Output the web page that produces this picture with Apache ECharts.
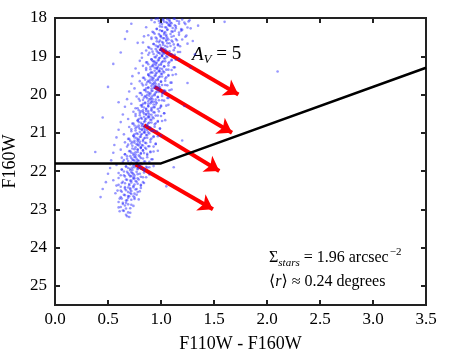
<!DOCTYPE html>
<html>
<head>
<meta charset="utf-8">
<script src="https://cdn.jsdelivr.net/npm/echarts@6/dist/echarts.min.js"></script>
<style>
html,body{margin:0;padding:0;background:#fff}
#main{width:450px;height:354px}
</style>
</head>
<body>
<div id="main"></div>
<script>
// tick labels
var xTicks = [0.0, 0.5, 1.0, 1.5, 2.0, 2.5, 3.0, 3.5];
var yTicks = [18, 19, 20, 21, 22, 23, 24, 25];

// completeness cut (colour, magnitude)
var cutLine = [[0.0, 21.8], [1.0, 21.8], [3.5, 19.3]];

// reddening vectors, A_V = 5
var arrows = [
  [[0.99, 18.80], [1.73, 20.00]],
  [[0.94, 19.80], [1.67, 21.00]],
  [[0.84, 20.80], [1.55, 22.00]],
  [[0.76, 21.83], [1.49, 23.00]]
];

// stars (F110W-F160W, F160W)
var stars = [
  [1.02,18.03],[1.08,18.05],[1.13,18.02],[0.98,18.08],[1.05,18.11],[1.17,18.09],[1.10,18.14],[1.01,18.16],[1.22,18.12],[1.07,18.18],[1.27,18.06],[0.95,18.02],
  [0.99,18.22],[1.04,18.24],[1.09,18.21],[1.14,18.27],[0.96,18.29],[1.06,18.31],[1.01,18.34],[1.11,18.36],[1.19,18.33],[0.93,18.38],[1.03,18.39],[1.25,18.25],
  [0.98,18.42],[1.05,18.44],[1.00,18.47],[1.10,18.49],[0.95,18.51],[1.02,18.53],[1.07,18.56],[0.91,18.55],[1.15,18.58],[0.99,18.59],[1.24,18.46],[0.84,18.48],
  [0.96,18.61],[1.01,18.63],[1.06,18.66],[0.93,18.68],[0.99,18.71],[1.04,18.73],[1.12,18.69],[0.97,18.76],[0.89,18.78],[1.02,18.79],[1.18,18.74],[0.78,18.65],
  [0.95,18.81],[1.00,18.83],[1.05,18.86],[0.92,18.88],[0.98,18.91],[1.03,18.93],[1.10,18.95],[0.88,18.96],[0.96,18.98],[1.01,18.99],[1.16,18.89],[0.82,18.92],
  [0.94,19.02],[0.99,19.04],[1.04,19.06],[0.91,19.08],[0.97,19.11],[1.02,19.13],[1.08,19.15],[0.87,19.16],[0.95,19.18],[1.00,19.19],[1.14,19.09],[0.80,19.12],[0.93,19.14],
  [0.93,19.21],[0.98,19.23],[1.03,19.26],[0.90,19.28],[0.96,19.31],[1.01,19.33],[1.07,19.35],[0.86,19.36],[0.94,19.38],[0.99,19.39],[1.13,19.29],[0.76,19.32],[0.92,19.24],
  [0.91,19.41],[0.96,19.43],[1.01,19.46],[0.88,19.48],[0.94,19.51],[0.99,19.53],[1.05,19.55],[0.84,19.56],[0.92,19.58],[0.97,19.59],[1.11,19.49],[0.73,19.52],[0.90,19.44],
  [0.90,19.61],[0.95,19.63],[1.00,19.66],[0.87,19.68],[0.93,19.71],[0.98,19.73],[1.04,19.75],[0.83,19.76],[0.91,19.78],[0.96,19.79],[1.10,19.69],[0.72,19.72],[0.88,19.64],
  [0.88,19.81],[0.93,19.83],[0.98,19.86],[0.85,19.88],[0.91,19.91],[0.96,19.93],[1.02,19.95],[0.81,19.96],[0.89,19.98],[0.94,19.99],[1.08,19.89],[0.70,19.92],[0.86,19.84],
  [0.87,20.01],[0.92,20.03],[0.97,20.06],[0.84,20.08],[0.90,20.11],[0.95,20.13],[1.01,20.15],[0.80,20.16],[0.88,20.18],[0.93,20.19],[1.07,20.09],[0.68,20.12],[0.85,20.04],
  [0.85,20.21],[0.90,20.23],[0.95,20.26],[0.82,20.28],[0.88,20.31],[0.93,20.33],[0.99,20.35],[0.78,20.36],[0.86,20.38],[0.91,20.39],[1.05,20.29],[0.66,20.32],[0.83,20.24],
  [0.83,20.41],[0.88,20.43],[0.93,20.46],[0.80,20.48],[0.86,20.51],[0.91,20.53],[0.97,20.55],[0.76,20.56],[0.84,20.58],[0.89,20.59],[1.03,20.49],[0.64,20.52],[0.81,20.44],
  [0.81,20.61],[0.86,20.63],[0.91,20.66],[0.78,20.68],[0.84,20.71],[0.89,20.73],[0.95,20.75],[0.74,20.76],[0.82,20.78],[0.87,20.79],[1.01,20.69],[0.62,20.72],[0.79,20.64],
  [0.79,20.81],[0.84,20.83],[0.89,20.86],[0.76,20.88],[0.82,20.91],[0.87,20.93],[0.93,20.95],[0.72,20.96],[0.80,20.98],[0.85,20.99],[0.99,20.89],[0.60,20.92],[0.77,20.84],
  [0.77,21.01],[0.82,21.03],[0.87,21.06],[0.74,21.08],[0.80,21.11],[0.85,21.13],[0.91,21.15],[0.70,21.16],[0.78,21.18],[0.83,21.19],[0.97,21.09],[0.58,21.12],[0.75,21.04],
  [0.75,21.21],[0.80,21.23],[0.85,21.26],[0.72,21.28],[0.78,21.31],[0.83,21.33],[0.89,21.35],[0.68,21.36],[0.76,21.38],[0.81,21.39],[0.95,21.29],[0.56,21.32],[0.73,21.24],
  [0.73,21.41],[0.78,21.43],[0.83,21.46],[0.70,21.48],[0.76,21.51],[0.81,21.53],[0.87,21.55],[0.66,21.56],[0.74,21.58],[0.79,21.59],[0.93,21.49],[0.55,21.52],
  [0.71,21.61],[0.76,21.63],[0.81,21.66],[0.68,21.68],[0.74,21.71],[0.79,21.73],[0.85,21.75],[0.64,21.76],[0.72,21.78],[0.77,21.79],[0.91,21.69],[0.53,21.72],
  [0.70,21.81],[0.75,21.83],[0.80,21.86],[0.67,21.88],[0.73,21.91],[0.78,21.93],[0.84,21.95],[0.63,21.96],[0.71,21.98],[0.89,21.90],[0.52,21.92],
  [0.68,22.02],[0.73,22.05],[0.78,22.08],[0.65,22.11],[0.71,22.14],[0.83,22.16],[0.60,22.18],[0.75,22.19],[0.50,22.07],
  [0.67,22.22],[0.72,22.25],[0.77,22.28],[0.63,22.31],[0.70,22.34],[0.81,22.36],[0.58,22.38],[0.74,22.39],[0.48,22.29],
  [0.66,22.42],[0.71,22.45],[0.76,22.48],[0.62,22.51],[0.69,22.55],[0.80,22.53],[0.57,22.58],[0.45,22.47],
  [0.65,22.62],[0.70,22.66],[0.75,22.69],[0.61,22.72],[0.68,22.76],[0.79,22.74],[0.43,22.68],
  [0.64,22.83],[0.69,22.87],[0.74,22.91],[0.60,22.95],[0.67,22.98],
  [0.65,23.04],[0.71,23.09],[0.68,23.18],
  [0.97,18.01],[1.02,18.06],[1.06,18.03],[1.08,18.08],[1.12,18.02],[1.15,18.07],[1.20,18.04],[0.91,18.05],[1.26,18.09],
  [0.99,18.14],[1.03,18.10],[1.08,18.17],[1.09,18.12],[1.13,18.19],[1.17,18.15],[0.94,18.11],[1.23,18.16],[1.06,18.13],
  [0.96,18.28],[1.01,18.23],[1.05,18.25],[1.08,18.20],[1.11,18.26],[1.14,18.22],[1.19,18.29],[0.86,18.24],[1.28,18.27],
  [0.99,18.32],[1.04,18.37],[1.06,18.30],[1.10,18.35],[1.13,18.33],[1.17,18.38],[0.92,18.36],[1.20,18.31],[1.01,18.34],
  [0.94,18.41],[0.99,18.46],[1.03,18.43],[1.05,18.48],[1.09,18.42],[1.12,18.47],[1.17,18.44],[0.88,18.45],[1.23,18.49],
  [0.96,18.54],[1.00,18.50],[1.05,18.57],[1.06,18.52],[1.10,18.59],[1.14,18.55],[0.91,18.51],[1.20,18.56],[1.03,18.53],
  [0.93,18.68],[0.98,18.63],[1.02,18.65],[1.05,18.60],[1.08,18.66],[1.11,18.62],[1.16,18.69],[0.83,18.64],[1.25,18.67],
  [0.95,18.72],[1.00,18.77],[1.02,18.70],[1.06,18.75],[1.09,18.73],[1.13,18.78],[0.88,18.76],[1.16,18.71],[0.97,18.74],
  [0.91,18.81],[0.96,18.86],[0.99,18.83],[1.01,18.88],[1.04,18.82],[1.08,18.87],[1.12,18.84],[0.86,18.85],[1.18,18.89],
  [0.93,18.94],[0.97,18.90],[1.01,18.97],[1.02,18.92],[1.05,18.99],[1.08,18.95],[0.89,18.91],[1.13,18.96],[0.99,18.93],
  [0.91,19.08],[0.95,19.03],[0.98,19.05],[1.01,19.00],[1.03,19.06],[1.06,19.02],[1.10,19.09],[0.82,19.04],[1.17,19.07],
  [0.92,19.12],[0.96,19.17],[0.98,19.10],[1.01,19.15],[1.04,19.13],[1.07,19.18],[0.86,19.16],[1.10,19.11],[0.94,19.14],
  [0.88,19.21],[0.92,19.26],[0.95,19.23],[0.97,19.28],[1.00,19.22],[1.03,19.27],[1.07,19.24],[0.83,19.25],[1.12,19.29],
  [0.90,19.34],[0.94,19.30],[0.98,19.37],[0.99,19.32],[1.02,19.39],[1.05,19.35],[0.86,19.31],[1.10,19.36],[0.96,19.33],
  [0.88,19.48],[0.92,19.43],[0.95,19.45],[0.98,19.40],[1.00,19.46],[1.03,19.42],[1.07,19.49],[0.79,19.44],[1.14,19.47],
  [0.89,19.52],[0.93,19.57],[0.95,19.50],[0.98,19.55],[1.01,19.53],[1.04,19.58],[0.83,19.56],[1.07,19.51],[0.91,19.54],
  [0.85,19.61],[0.89,19.66],[0.92,19.63],[0.94,19.68],[0.97,19.62],[1.00,19.67],[1.04,19.64],[0.80,19.65],[1.09,19.69],
  [0.86,19.74],[0.90,19.70],[0.94,19.77],[0.95,19.72],[0.98,19.79],[1.01,19.75],[0.82,19.71],[1.06,19.76],[0.92,19.73],
  [0.84,19.88],[0.88,19.83],[0.91,19.85],[0.94,19.80],[0.96,19.86],[0.99,19.82],[1.03,19.89],[0.75,19.84],[1.10,19.87],
  [0.86,19.92],[0.90,19.97],[0.92,19.90],[0.95,19.95],[0.98,19.93],[1.01,19.98],[0.80,19.96],[1.04,19.91],[0.88,19.94],
  [0.82,20.01],[0.86,20.06],[0.89,20.03],[0.91,20.08],[0.94,20.02],[0.97,20.07],[1.01,20.04],[0.77,20.05],[1.06,20.09],
  [0.83,20.14],[0.87,20.10],[0.91,20.17],[0.92,20.12],[0.95,20.19],[0.98,20.15],[0.79,20.11],[1.03,20.16],[0.89,20.13],
  [0.81,20.28],[0.85,20.23],[0.88,20.25],[0.91,20.20],[0.93,20.26],[0.96,20.22],[1.00,20.29],[0.72,20.24],[1.07,20.27],
  [0.82,20.32],[0.86,20.37],[0.88,20.30],[0.91,20.35],[0.94,20.33],[0.97,20.38],[0.76,20.36],[1.00,20.31],[0.84,20.34],
  [0.79,20.41],[0.83,20.46],[0.86,20.43],[0.88,20.48],[0.91,20.42],[0.94,20.47],[0.98,20.44],[0.74,20.45],[1.03,20.49],
  [0.80,20.54],[0.84,20.50],[0.88,20.57],[0.89,20.52],[0.92,20.59],[0.95,20.55],[0.76,20.51],[1.00,20.56],[0.86,20.53],
  [0.78,20.68],[0.82,20.63],[0.85,20.65],[0.88,20.60],[0.90,20.66],[0.93,20.62],[0.97,20.69],[0.69,20.64],[1.04,20.67],
  [0.79,20.72],[0.83,20.77],[0.85,20.70],[0.88,20.75],[0.91,20.73],[0.94,20.78],[0.73,20.76],[0.97,20.71],[0.81,20.74],
  [0.75,20.81],[0.79,20.86],[0.82,20.83],[0.84,20.88],[0.87,20.82],[0.90,20.87],[0.94,20.84],[0.70,20.85],[0.99,20.89],
  [0.76,20.94],[0.80,20.90],[0.84,20.97],[0.85,20.92],[0.88,20.99],[0.91,20.95],[0.72,20.91],[0.96,20.96],[0.82,20.93],
  [0.74,21.08],[0.78,21.03],[0.81,21.05],[0.84,21.00],[0.86,21.06],[0.89,21.02],[0.93,21.09],[0.65,21.04],[1.00,21.07],
  [0.75,21.12],[0.79,21.17],[0.81,21.10],[0.84,21.15],[0.87,21.13],[0.90,21.18],[0.69,21.16],[0.93,21.11],[0.77,21.14],
  [0.71,21.21],[0.75,21.26],[0.78,21.23],[0.80,21.28],[0.83,21.22],[0.86,21.27],[0.90,21.24],[0.66,21.25],[0.95,21.29],
  [0.73,21.34],[0.77,21.30],[0.81,21.37],[0.82,21.32],[0.85,21.39],[0.88,21.35],[0.69,21.31],[0.93,21.36],[0.79,21.33],
  [0.71,21.48],[0.75,21.43],[0.78,21.45],[0.81,21.40],[0.83,21.46],[0.86,21.42],[0.90,21.49],[0.62,21.44],[0.97,21.47],
  [0.72,21.52],[0.76,21.57],[0.78,21.50],[0.81,21.55],[0.84,21.53],[0.87,21.58],[0.66,21.56],[0.90,21.51],[0.74,21.54],
  [0.68,21.61],[0.72,21.66],[0.75,21.63],[0.77,21.68],[0.80,21.62],[0.83,21.67],[0.87,21.64],[0.63,21.65],[0.92,21.69],
  [0.69,21.74],[0.73,21.70],[0.77,21.77],[0.78,21.72],[0.81,21.79],[0.84,21.75],[0.65,21.71],[0.89,21.76],[0.75,21.73],
  [0.67,21.88],[0.71,21.83],[0.74,21.85],[0.77,21.80],[0.79,21.86],[0.82,21.82],[0.86,21.89],[0.58,21.84],[0.93,21.87],
  [0.69,21.92],[0.73,21.97],[0.75,21.90],[0.78,21.95],[0.81,21.93],[0.84,21.98],[0.63,21.96],[0.87,21.91],[0.71,21.94],
  [0.65,22.01],[0.69,22.06],[0.72,22.03],[0.74,22.08],[0.77,22.02],[0.80,22.07],[0.84,22.04],[0.60,22.05],[0.89,22.09],
  [0.66,22.14],[0.70,22.10],[0.74,22.17],[0.75,22.12],[0.78,22.19],[0.81,22.15],[0.62,22.11],[0.86,22.16],[0.72,22.13],
  [0.64,22.28],[0.68,22.23],[0.71,22.25],[0.74,22.20],[0.76,22.26],[0.79,22.22],[0.83,22.29],[0.55,22.24],
  [0.66,22.32],[0.70,22.37],[0.72,22.30],[0.75,22.35],[0.78,22.33],[0.81,22.38],[0.60,22.36],[0.84,22.31],
  [0.62,22.41],[0.66,22.46],[0.69,22.43],[0.71,22.48],[0.74,22.42],[0.77,22.47],[0.81,22.44],
  [0.63,22.54],[0.67,22.50],[0.71,22.57],[0.72,22.52],[0.75,22.59],[0.78,22.55],[0.59,22.51],
  [0.62,22.68],[0.66,22.63],[0.69,22.65],[0.72,22.60],[0.74,22.66],[0.77,22.62],
  [0.63,22.72],[0.67,22.77],[0.69,22.70],[0.72,22.75],[0.75,22.73],
  [0.60,22.81],[0.64,22.86],[0.67,22.83],[0.72,22.88],
  [0.62,22.94],[0.66,22.90],[0.71,22.97],
  [0.64,23.03],[0.69,23.08],[0.61,23.05],[0.67,23.14],[0.70,23.20],
  // scattered outliers
  [0.62,18.90],[0.68,18.35],[0.72,18.15],[0.66,18.55],[0.55,19.20],[0.50,19.80],[0.45,20.60],[0.38,21.50],[0.60,20.20],
  [1.30,18.60],[1.35,18.20],[1.32,18.95],[1.28,19.30],[1.25,19.70],[1.22,20.30],[1.20,21.20],[1.12,21.90],[1.05,22.40],
  [2.10,19.40],[1.60,18.10]
];

var chart = echarts.init(document.getElementById('main'));
var serif = "'Liberation Serif', 'DejaVu Serif', serif";

chart.setOption({
  animation: false,
  backgroundColor: '#fff',
  grid: { left: 55, right: 24, top: 18, bottom: 49, outerBoundsMode: 'none',
    show: true, borderColor: '#222', borderWidth: 2 },
  xAxis: [{
    type: 'value', min: 0, max: 3.5, interval: 0.5, position: 'bottom',
    name: 'F110W - F160W', nameLocation: 'middle', nameGap: 30,
    nameTextStyle: { fontFamily: serif, fontSize: 18, color: '#000' },
    axisLine: { show: true, onZero: false, lineStyle: { color: '#222', width: 2 } },
    axisTick: { show: true, inside: true, length: 5, lineStyle: { color: '#222', width: 2 } },
    axisLabel: { fontFamily: serif, fontSize: 17, color: '#000', margin: 6,
      formatter: function (v) { return xTicks.indexOf(v) >= 0 ? v.toFixed(1) : ''; } },
    splitLine: { show: false }
  }, {
    type: 'value', min: 0, max: 3.5, interval: 0.5, position: 'top',
    axisLine: { show: true, onZero: false, lineStyle: { color: '#222', width: 2 } },
    axisTick: { show: true, inside: true, length: 5, lineStyle: { color: '#222', width: 2 } },
    axisLabel: { show: false }, splitLine: { show: false }
  }],
  yAxis: [{
    type: 'value', min: 18, max: 25.5, interval: 1, inverse: true, position: 'left',
    name: 'F160W', nameLocation: 'middle', nameGap: 36,
    nameTextStyle: { fontFamily: serif, fontSize: 18, color: '#000' },
    axisLine: { show: true, onZero: false, lineStyle: { color: '#222', width: 2 } },
    axisTick: { show: true, inside: true, length: 5, lineStyle: { color: '#222', width: 2 } },
    axisLabel: { fontFamily: serif, fontSize: 17, color: '#000', margin: 8,
      formatter: function (v) { return yTicks.indexOf(v) >= 0 ? String(v) : ''; } },
    splitLine: { show: false }
  }, {
    type: 'value', min: 18, max: 25.5, interval: 1, inverse: true, position: 'right',
    axisLine: { show: true, onZero: false, lineStyle: { color: '#222', width: 2 } },
    axisTick: { show: true, inside: true, length: 5, lineStyle: { color: '#222', width: 2 } },
    axisLabel: { show: false }, splitLine: { show: false }
  }],
  series: [{
    type: 'scatter',
    data: stars,
    symbolSize: 2.6,
    itemStyle: { color: 'rgba(30,30,255,0.58)' },
    silent: true
  }, {
    type: 'line',
    xAxisIndex: 1, yAxisIndex: 1,
    data: cutLine,
    showSymbol: false,
    lineStyle: { color: '#000', width: 2.5 },
    silent: true
  }, {
    type: 'lines',
    coordinateSystem: 'cartesian2d',
    data: arrows.map(function (a) { return { coords: a }; }),
    symbol: ['none', 'arrow'],
    symbolSize: [9, 14],
    lineStyle: { color: '#ff0000', width: 4, opacity: 1 },
    silent: true
  }],
  graphic: [{
    type: 'text', left: 192, top: 45,
    style: {
      text: '{a|A}{s|V}{n| = 5}',
      rich: {
        a: { fontFamily: serif, fontStyle: 'italic', fontSize: 19, fill: '#000', lineHeight: 24 },
        s: { fontFamily: serif, fontStyle: 'italic', fontSize: 13, fill: '#000', verticalAlign: 'bottom', lineHeight: 24, padding: [6, 0, 0, 0] },
        n: { fontFamily: serif, fontSize: 19, fill: '#000', lineHeight: 24 }
      }
    }
  }, {
    type: 'text', left: 269, top: 247,
    style: {
      text: '{n|Σ}{s|stars}{n| = 1.96 arcsec}{p|−2}',
      rich: {
        n: { fontFamily: serif, fontSize: 16, fill: '#000', lineHeight: 22 },
        s: { fontFamily: serif, fontStyle: 'italic', fontSize: 11, fill: '#000', verticalAlign: 'bottom', lineHeight: 22, padding: [4, 0, 0, 0] },
        p: { fontFamily: serif, fontSize: 11, fill: '#000', verticalAlign: 'top', lineHeight: 22, padding: [0, 0, 6, 1] }
      }
    }
  }, {
    type: 'text', left: 269, top: 274,
    style: {
      text: '{n|⟨}{i|r}{n|⟩ ≈ 0.24 degrees}',
      rich: {
        n: { fontFamily: serif, fontSize: 16, fill: '#000' },
        i: { fontFamily: serif, fontStyle: 'italic', fontSize: 16, fill: '#000' }
      }
    }
  }]
});
</script>
</body>
</html>
